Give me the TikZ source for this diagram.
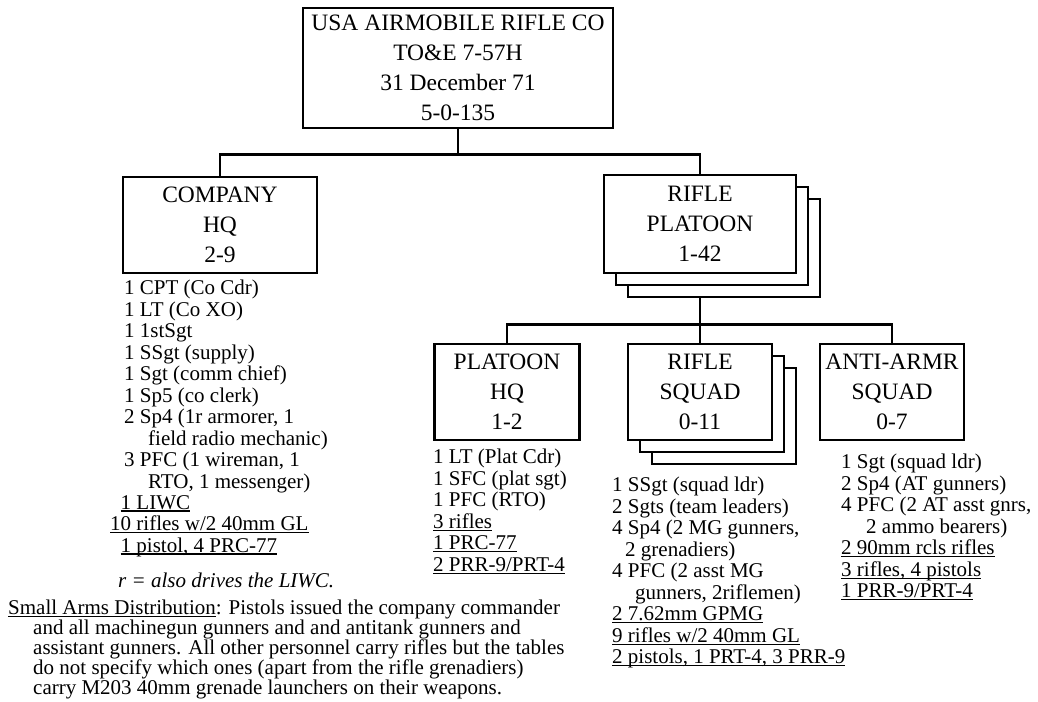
\documentclass[tikz,border=0pt]{standalone}
\usepackage{fontspec}
\setmainfont{Liberation Serif}

\newlength\ulwd
\newcommand\ulin[1]{\settowidth\ulwd{#1}\rlap{\rule[-2.6pt]{\ulwd}{1.3pt}}#1}

\begin{document}
\begin{tikzpicture}[x=1pt, y=-1pt,
  unit/.style={draw, line width=2.7pt, fill=white, align=center, inner sep=0pt, font=\fontsize{23.5}{30}\selectfont},
  sheet/.style={draw, line width=2.7pt, fill=white},
  link/.style={line width=2.8pt},
  roster/.style={anchor=north west, align=left, inner sep=0pt, font=\fontsize{21}{21.5}\selectfont,
    execute at begin node={\rule{0pt}{15pt}}}]
  \useasboundingbox (0,0) rectangle (1038,701);
  % company level
  \node[unit, minimum width=310, minimum height=120] (top) at (458,68)
    {USA AIRMOBILE RIFLE CO\\TO\&E 7-57H\\31 December 71\\5-0-135};
  \node[unit, minimum width=194, minimum height=96] (cohq) at (220,225) {COMPANY\\HQ\\2-9};
  \foreach \d in {24,12}
    \draw[sheet] (604+\d,175+\d) rectangle (796+\d,273+\d);
  \node[unit, minimum width=192, minimum height=98] (rplt) at (700,224) {RIFLE\\PLATOON\\1-42};
  \draw[link] (top.south) -- ++(0,25) -| (cohq.north);
  \draw[link] (top.south) -- ++(0,25) -| (rplt.north);
  % platoon level
  \node[unit, minimum width=145, minimum height=96] (plthq) at (507,392) {PLATOON\\HQ\\1-2};
  \foreach \d in {24,12}
    \draw[sheet] (628+\d,344+\d) rectangle (772+\d,440+\d);
  \node[unit, minimum width=144, minimum height=96] (rsqd) at (700,392) {RIFLE\\SQUAD\\0-11};
  \node[unit, minimum width=144, minimum height=96] (aasqd) at (892,392) {ANTI-ARMR\\SQUAD\\0-7};
  \draw[link] ([yshift=-24pt]rplt.south) -- ++(0,26) -| (plthq.north);
  \draw[link] ([yshift=-24pt]rplt.south) -- ++(0,26) -| (rsqd.north);
  \draw[link] ([yshift=-24pt]rplt.south) -- ++(0,26) -| (aasqd.north);
  % personnel and weapons
  \node[roster] (cohqlist) at (124,280) {1 CPT (Co Cdr)\\1 LT (Co XO)\\1 1stSgt\\1 SSgt (supply)\\
    1 Sgt (comm chief)\\1 Sp5 (co clerk)\\2 Sp4 (1r armorer, 1\\\hspace*{24pt}field radio mechanic)\\
    3 PFC (1 wireman, 1\\\hspace*{24pt}RTO, 1 messenger)};
  \node[roster] (cohqarms) at (110,495) {\hphantom{1}\ulin{1 LIWC}\\\ulin{10 rifles w/2 40mm GL}\\
    \hphantom{1}\ulin{1 pistol, 4 PRC-77}};
  \node[roster] (cohqnote) at (118,572) {\textit{r = also drives the LIWC.}};
  \node[roster] (plthqlist) at (433,449) {1 LT (Plat Cdr)\\1 SFC (plat sgt)\\1 PFC (RTO)\\
    \ulin{3 rifles}\\\ulin{1 PRC-77}\\\ulin{2 PRR-9/PRT-4}};
  \node[roster] (rsqdlist) at (612,477) {1 SSgt (squad ldr)\\2 Sgts (team leaders)\\4 Sp4 (2 MG gunners,\\
    \hspace*{13pt}2 grenadiers)\\4 PFC (2 asst MG\\\hspace*{23pt}gunners, 2riflemen)\\
    \ulin{2 7.62mm GPMG}\\\ulin{9 rifles w/2 40mm GL}\\\ulin{2 pistols, 1 PRT-4, 3 PRR-9}};
  \node[roster] (aasqdlist) at (841,454) {1 Sgt (squad ldr)\\2 Sp4 (AT gunners)\\4 PFC (2 AT asst gnrs,\\
    \hspace*{25pt}2 ammo bearers)\\\ulin{2 90mm rcls rifles}\\\ulin{3 rifles, 4 pistols}\\\ulin{1 PRR-9/PRT-4}};
  % footnote
  \node[roster, font=\fontsize{21}{20}\selectfont] (armsnote) at (8,600)
    {\ulin{Small Arms Distribution}: Pistols issued the company commander\\
    \hspace*{25pt}and all machinegun gunners and and antitank gunners and\\
    \hspace*{25pt}assistant gunners. All other personnel carry rifles but the tables\\
    \hspace*{25pt}do not specify which ones (apart from the rifle grenadiers)\\
    \hspace*{25pt}carry M203 40mm grenade launchers on their weapons.};
\end{tikzpicture}
\end{document}
